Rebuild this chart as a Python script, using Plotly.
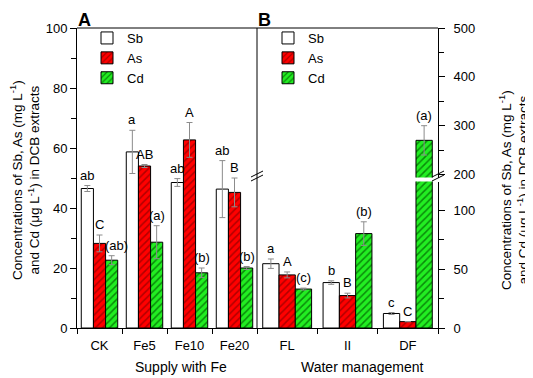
import plotly.graph_objects as go

# ---- data ----
cats_a = ["CK", "Fe5", "Fe10", "Fe20"]
cats_b = ["FL", "II", "DF"]
series = ["Sb", "As", "Cd"]

a_sb = [46.5, 58.7, 48.5, 46.3]
a_sb_err = [1.0, 7.2, 1.3, 9.5]
a_as = [28.2, 54.0, 62.7, 45.2]
a_as_err = [2.8, 0.5, 5.8, 4.8]
a_cd = [22.6, 28.6, 18.4, 20.0]
a_cd_err = [1.5, 5.5, 1.6, 0.5]
a_letters = [["ab", "a", "ab", "ab"], ["C", "AB", "A", "B"], ["(ab)", "(a)", "(b)", "(b)"]]

b_sb = [54.5, 38.5, 12.3]
b_sb_err = [4.0, 1.5, 0.8]
b_as = [45.0, 27.5, 5.4]
b_as_err = [2.5, 2.0, 0.0]
b_cd = [33.0, 80.0, 270.0]
b_cd_err = [0.8, 10.0, 30.0]
b_letters = [["a", "b", "c"], ["A", "B", "C"], ["(c)", "(b)", "(a)"]]

# ---- styles ----
FONT = "Liberation Sans, Arial, sans-serif"
OFF = 8  # page body margin in the browser
fills = [
    dict(color="white", pattern=dict(shape="")),
    dict(color="#ff0000", pattern=dict(shape="/", bgcolor="#ff0000", fgcolor="#b00000", size=5, solidity=0.3, fillmode="replace")),
    dict(color="#22ee22", pattern=dict(shape="/", bgcolor="#22ee22", fgcolor="#0a8a0a", size=5, solidity=0.3, fillmode="replace")),
]
BARGAP = 0.19
dA = (257 - 77) / 361.0

fig = go.Figure()

a_vals = [a_sb, a_as, a_cd]
a_errs = [a_sb_err, a_as_err, a_cd_err]
b_vals = [b_sb, b_as, b_cd]
b_errs = [b_sb_err, b_as_err, b_cd_err]

def err(arr):
    return dict(type="data", array=arr, visible=True, color="#8c8c8c", thickness=1, width=3)

for j, name in enumerate(series):
    m = dict(fills[j]); m["line"] = dict(color="black", width=1)
    fig.add_trace(go.Bar(x=cats_a, y=a_vals[j], name=name, marker=m, error_y=err(a_errs[j]),
                         xaxis="x", yaxis="y", legend="legend"))
for yax, show in (("y3", True), ("y2", False)):
    for j, name in enumerate(series):
        m = dict(fills[j]); m["line"] = dict(color="black", width=1)
        fig.add_trace(go.Bar(x=cats_b, y=b_vals[j], name=name, marker=m, error_y=err(b_errs[j]),
                             xaxis="x2", yaxis=yax, legend="legend2", showlegend=show))

# ---- letters ----
w = (1 - BARGAP) / 3
ann = []
for j in range(3):
    for i, c in enumerate(cats_a):
        ann.append(dict(x=i + (j - 1) * w, y=a_vals[j][i] + a_errs[j][i], xref="x", yref="y",
                        text=a_letters[j][i], showarrow=False, xanchor="center", yanchor="bottom",
                        yshift=1, xshift=5 if (i == 0 and j == 2) else 0,
                        font=dict(size=13, color="black")))
    for i, c in enumerate(cats_b):
        top = b_vals[j][i] + b_errs[j][i]
        ann.append(dict(x=i + (j - 1) * w, y=top, xref="x2", yref="y2" if top > 124 else "y3",
                        text=b_letters[j][i], showarrow=False, xanchor="center", yanchor="bottom", yshift=1,
                        font=dict(size=13, color="black")))

title_txt = "Concentrations of Sb, As (mg L<sup>-1</sup>)<br>and Cd (μg L<sup>-1</sup>) in DCB extracts"
def px(xp):
    return (xp - 77) / 361.0
def py(yp):
    return (328 - yp) / 300.0

def pann(x, y, text, size, **kw):
    return dict(x=px(x), y=py(y), xref="paper", yref="paper", text=text, showarrow=False,
                xanchor="center", yanchor="middle", font=dict(size=size, color="black"), **kw)

ann += [
    pann(84, 20, "<b>A</b>", 18, borderpad=0),
    pann(264, 20, "<b>B</b>", 18, borderpad=0),
    pann(181, 367, "Supply with Fe", 14),
    pann(362, 367, "Water management", 14),
    pann(25, 180, title_txt, 13.5, textangle=-90),
    pann(513, 190, title_txt, 13.5, textangle=-90),
]

# ---- frame & break marks ----
shapes = [
    dict(type="line", xref="paper", yref="paper", x0=0, x1=1, y0=1, y1=1, line=dict(color="black", width=1)),
    dict(type="line", xref="paper", yref="paper", x0=dA, x1=dA, y0=0, y1=1, line=dict(color="black", width=1)),
]
for xc in (dA, 1.0):
    for dy in (-2, 2):
        shapes.append(dict(type="line", xref="paper", yref="paper", xsizemode="pixel", ysizemode="pixel",
                           xanchor=xc, yanchor=py(176), x0=-6, x1=6, y0=dy - 3, y1=dy + 3,
                           line=dict(color="black", width=1)))

axis_common = dict(showline=True, linecolor="black", linewidth=1, showgrid=False, zeroline=False,
                   ticks="outside", tickcolor="black", tickfont=dict(size=13, color="black"))

fig.update_layout(
    width=533 - OFF, height=378 - OFF, margin=dict(l=77 - OFF, r=95, t=28 - OFF, b=50),
    paper_bgcolor="white", plot_bgcolor="white",
    font=dict(family=FONT, color="black"),
    barmode="group", bargap=BARGAP, bargroupgap=0,
    xaxis=dict(domain=[0, dA], anchor="y", type="category", tickson="boundaries", ticklen=5,
               range=[-0.5, 3.5], ticklabelstandoff=5, **axis_common),
    yaxis=dict(domain=[0, 1], anchor="x", range=[0, 100], dtick=20, ticklen=6,
               minor=dict(dtick=10, ticklen=5, ticks="outside", tickcolor="black"), **axis_common),
    xaxis2=dict(domain=[dA, 1], anchor="y3", type="category", tickson="boundaries", ticklen=5,
                range=[-0.5, 2.5], ticklabelstandoff=5, **axis_common),
    yaxis3=dict(domain=[0, py(181.5)], anchor="x2", side="right", range=[0, 146.5 / 1.18], dtick=50,
                ticklen=6, minor=dict(dtick=25, ticklen=5, ticks="outside", tickcolor="black"),
                ticklabelstandoff=6, **axis_common),
    yaxis2=dict(domain=[py(177.5), 1], anchor="x2", side="right", range=[500 - 150.5 / 0.4917, 500],
                tick0=0, dtick=100, ticklen=6,
                minor=dict(dtick=50, ticklen=5, ticks="outside", tickcolor="black"),
                ticklabelstandoff=6, **axis_common),
    legend=dict(x=px(87), y=py(23), xanchor="left", yanchor="top", bgcolor="rgba(0,0,0,0)",
                font=dict(size=13, color="black"), tracegroupgap=0),
    legend2=dict(x=px(268), y=py(23), xanchor="left", yanchor="top", bgcolor="rgba(0,0,0,0)",
                 font=dict(size=13, color="black"), tracegroupgap=0),
    annotations=ann, shapes=shapes,
)

fig.write_html("out.html")
